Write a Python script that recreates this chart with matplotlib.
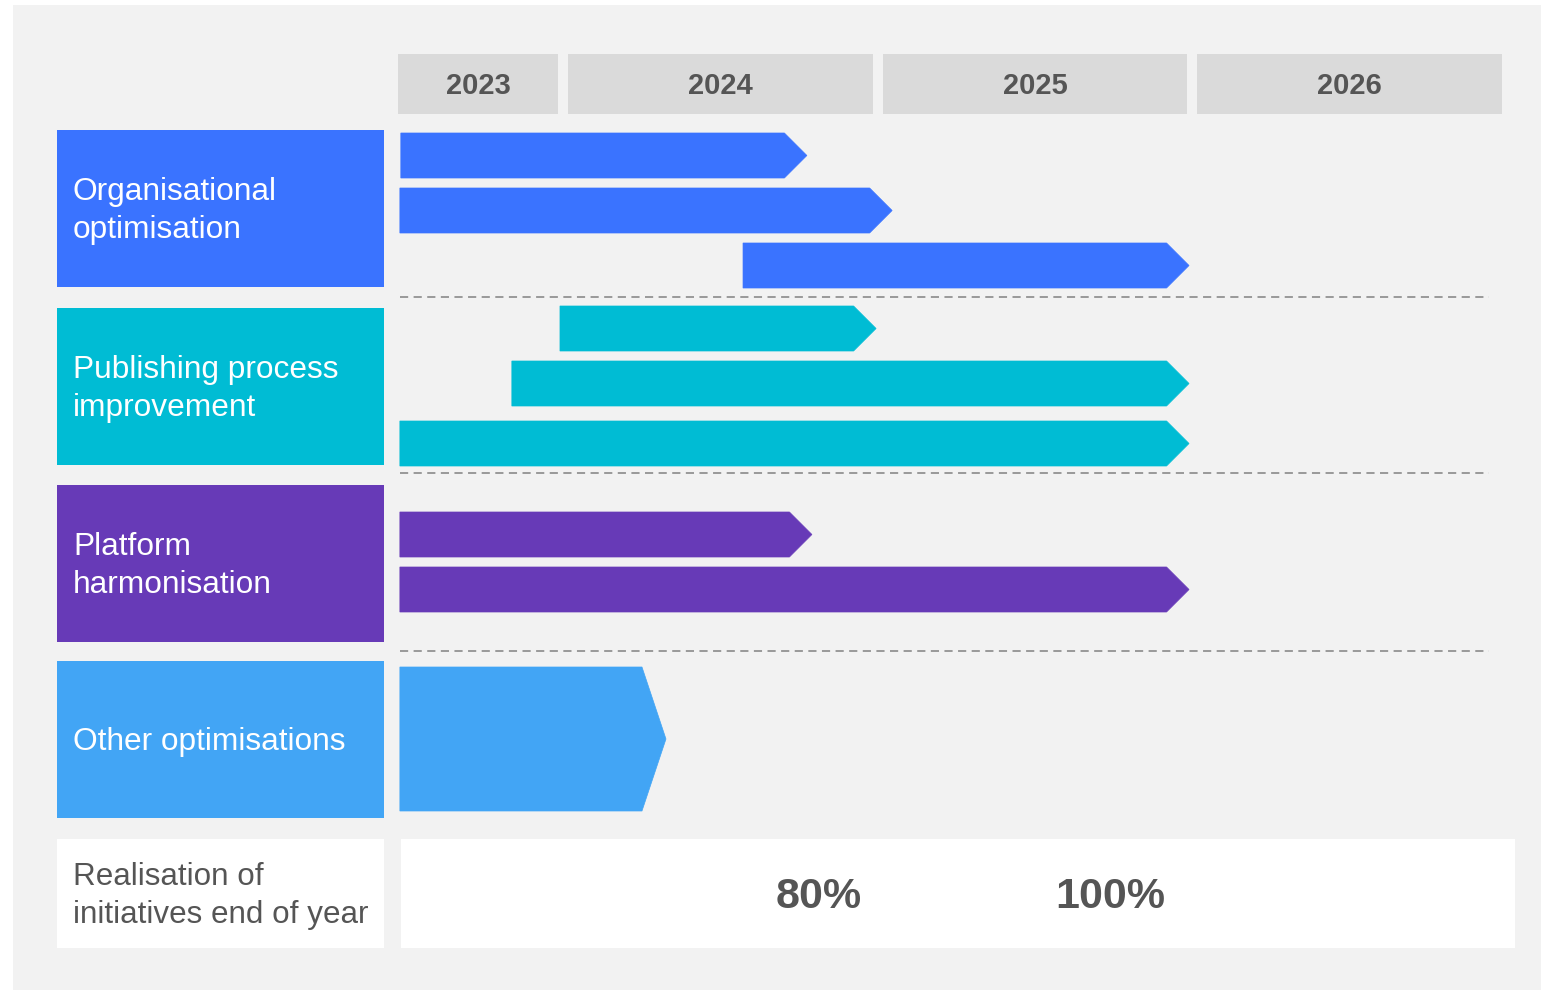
import matplotlib.pyplot as plt
from matplotlib.patches import Rectangle, Polygon

plt.rcParams['font.family'] = ['Liberation Sans', 'DejaVu Sans']

# timeline data (years as decimals)
years = [2023, 2024, 2025, 2026]
groups = ['Organisational\noptimisation', 'Publishing process\nimprovement',
          'Platform\nharmonisation', 'Other optimisations']
group_colors = ['#3a73ff', '#00bcd4', '#673ab7', '#42a5f5']

bar_group = [0, 0, 0, 1, 1, 1, 2, 2, 3]
bar_start = [2023.483, 2023.480, 2024.571, 2023.989, 2023.836, 2023.480, 2023.480, 2023.480, 2023.480]
bar_end = [2024.774, 2025.045, 2025.989, 2024.994, 2025.989, 2025.989, 2024.790, 2025.989, 2024.326]

realisation_label = 'Realisation of\ninitiatives end of year'
realisation_values = ['80%', '100%']
realisation_at = [2024.81, 2025.74]

W, H = 1551, 990
T0, T1 = 2023.474, 2027.0
X0, X1 = 398, 1507

# layout in pixels
bar_top = [133, 188, 243, 306, 361, 421, 512, 567, 667]
bar_h = [45, 45, 45, 45, 45, 45, 45, 45, 144]
box_top = [130, 308, 485, 661]
box_h = 157
sep_y = [297, 473, 651]
grey_text = '#555555'

fig = plt.figure(figsize=(W / 100, H / 100), dpi=100)
bg = fig.add_axes([0, 0, 1, 1])
bg.set_xlim(0, W)
bg.set_ylim(H, 0)
bg.axis('off')

bg.add_patch(Rectangle((13, 5), 1528, 985, color='#f2f2f2', lw=0))

# category boxes on the left
for i, (name, col) in enumerate(zip(groups, group_colors)):
    bg.add_patch(Rectangle((57, box_top[i]), 327, box_h, color=col, lw=0))
    bg.text(73, box_top[i] + box_h / 2 + 2.5, name, color='white', fontsize=22.75,
            va='center', ha='left', linespacing=1.34)

# realisation row
bg.add_patch(Rectangle((57, 839), 327, 109, color='white', lw=0))
bg.add_patch(Rectangle((401, 839), 1114, 109, color='white', lw=0))
bg.text(73, 896, realisation_label, color=grey_text, fontsize=22.6,
        va='center', ha='left', linespacing=1.34)

# gantt area: x in years, y in pixels
ax = fig.add_axes([X0 / W, 0, (X1 - X0) / W, 1])
ax.set_xlim(T0, T1)
ax.set_ylim(H, 0)
ax.axis('off')
ax.patch.set_alpha(0)
px = (T1 - T0) / (X1 - X0)  # years per pixel

for y in years:
    left = max(y, T0) + (5 * px if y > T0 else 0)
    right = y + 1 - 5 * px
    ax.add_patch(Rectangle((left, 54), right - left, 60, color='#dadada', lw=0))
    ax.text((left + right) / 2, 86, str(y), fontsize=21, fontweight='bold',
            color=grey_text, ha='center', va='center')

for y in sep_y:
    ax.plot([T0 + 2 * px, T0 + 1091 * px], [y, y], color='#999999', lw=1.4,
            linestyle=(0, (4.2, 2.8)))

for g, s, e, top, h in zip(bar_group, bar_start, bar_end, bar_top, bar_h):
    tip = min(h / 2, 24) * px
    verts = [(s, top), (e - tip, top), (e, top + h / 2), (e - tip, top + h), (s, top + h)]
    ax.add_patch(Polygon(verts, closed=True, facecolor=group_colors[g],
                         edgecolor=group_colors[g], lw=0.5))

for val, t in zip(realisation_values, realisation_at):
    ax.text(t, 897, val, fontsize=31, fontweight='heavy', color=grey_text,
            ha='center', va='center')

fig.savefig('out.png', dpi=100, facecolor='white')
